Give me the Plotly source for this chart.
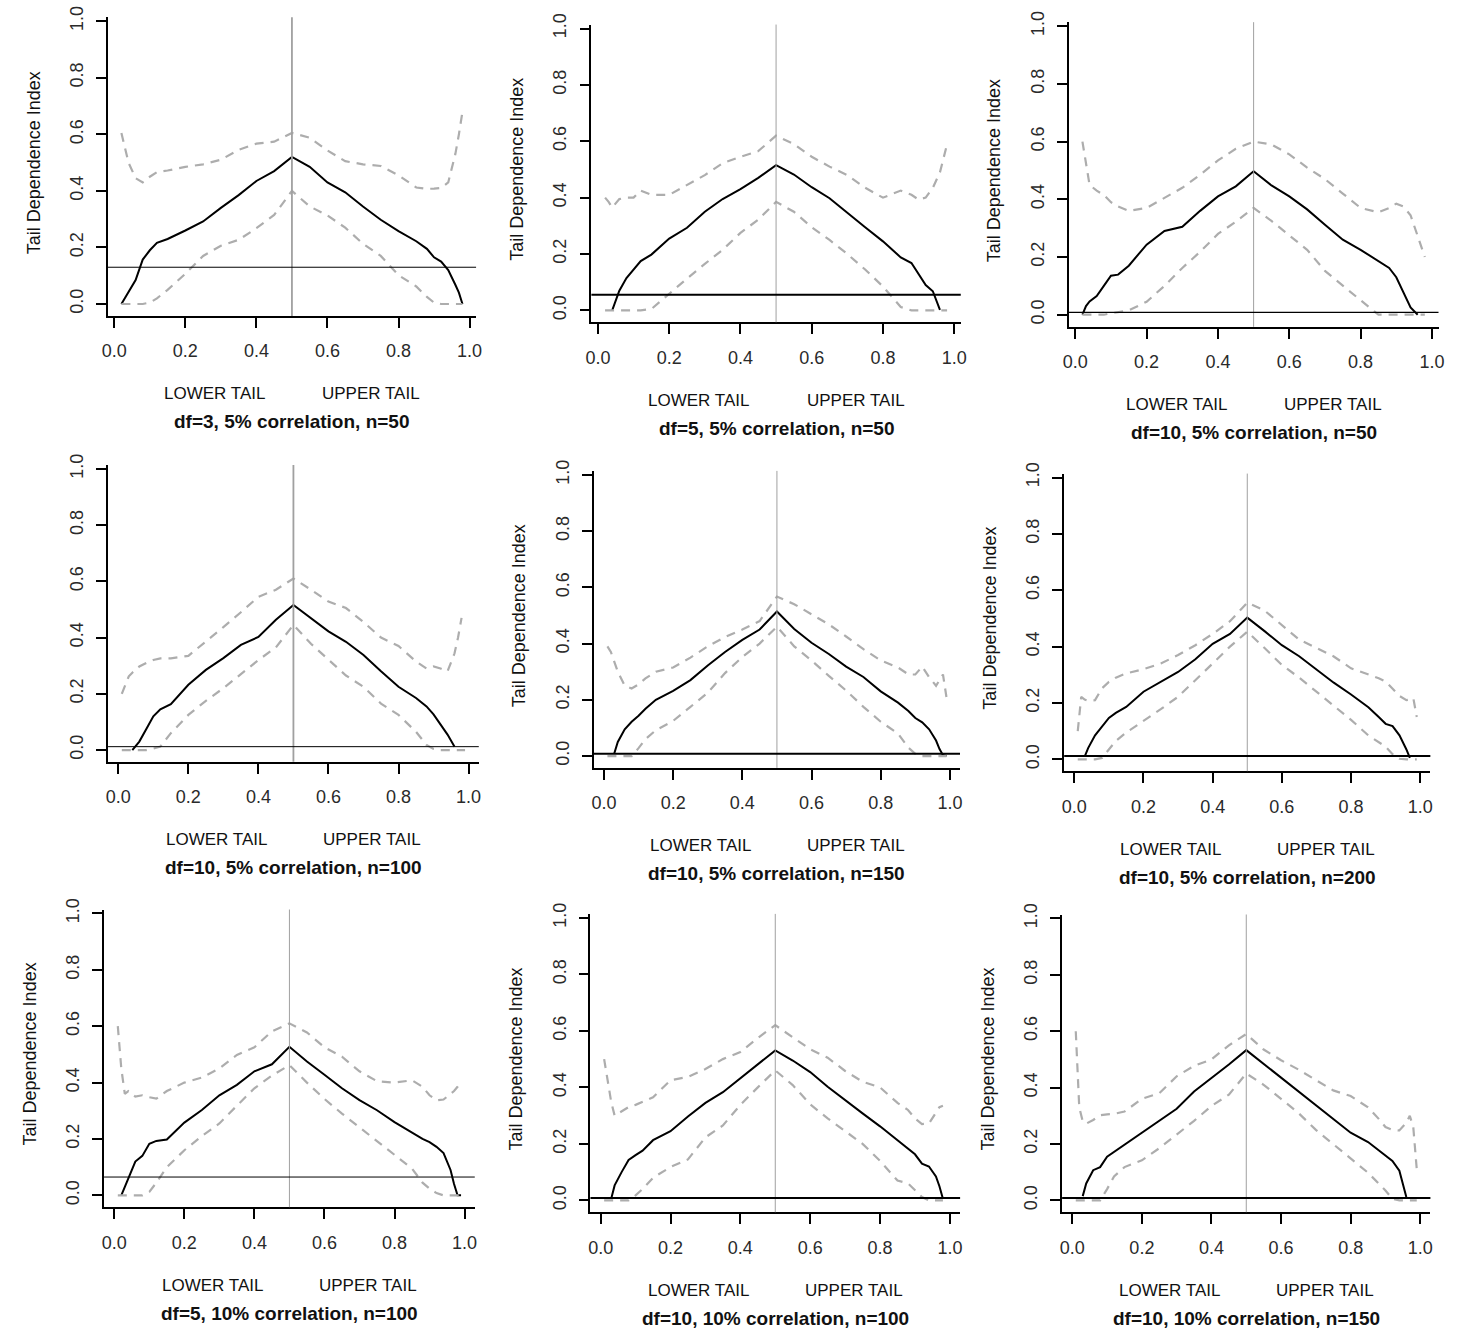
import plotly.graph_objects as go

W, H = 1463, 1342
N = None

X = [0.01, 0.02, 0.03, 0.04, 0.06, 0.08, 0.10, 0.12, 0.15, 0.20, 0.25, 0.30, 0.35, 0.40, 0.45,
     0.50, 0.55, 0.60, 0.65, 0.70, 0.75, 0.80, 0.85, 0.88, 0.90, 0.92, 0.94, 0.96, 0.97, 0.98, 0.99]

TICK_VALS = [0.0, 0.2, 0.4, 0.6, 0.8, 1.0]
TICK_TEXT = ["0.0", "0.2", "0.4", "0.6", "0.8", "1.0"]

TITLES = ["df=3, 5% correlation, n=50", "df=5, 5% correlation, n=50", "df=10, 5% correlation, n=50",
          "df=10, 5% correlation, n=100", "df=10, 5% correlation, n=150", "df=10, 5% correlation, n=200",
          "df=5, 10% correlation, n=100", "df=10, 10% correlation, n=100", "df=10, 10% correlation, n=150"]
SHOW_YTITLE = [True, True, True, False, True, True, True, True, True]
THRESH = [0.13, 0.056, 0.008, 0.012, 0.008, 0.012, 0.065, 0.008, 0.008]

# panel 1
EST1 = [N, 0.0, 0.022, 0.045, 0.085, 0.157, 0.19, 0.216, 0.23, 0.26, 0.292, 0.34, 0.385, 0.435, 0.47, 0.52, 0.485, 0.43, 0.395, 0.345, 0.298, 0.258, 0.222, 0.195, 0.165, 0.15, 0.12, 0.068, 0.04, 0.0, N]
UP1 = [N, 0.605, 0.55, 0.5, 0.445, 0.43, 0.45, 0.466, 0.472, 0.485, 0.494, 0.51, 0.545, 0.567, 0.574, 0.605, 0.588, 0.543, 0.505, 0.494, 0.488, 0.455, 0.412, 0.407, 0.408, 0.41, 0.43, 0.53, 0.6, 0.68, N]
LO1 = [N, 0, 0, 0, 0, 0, 0.005, 0.02, 0.05, 0.107, 0.17, 0.206, 0.227, 0.268, 0.315, 0.4, 0.345, 0.313, 0.27, 0.213, 0.17, 0.102, 0.062, 0.025, 0.005, 0, 0, 0, 0, 0, N]
# panel 2
EST2 = [N, N, N, 0.0, 0.07, 0.115, 0.145, 0.175, 0.198, 0.255, 0.293, 0.35, 0.395, 0.43, 0.47, 0.515, 0.482, 0.437, 0.398, 0.345, 0.295, 0.245, 0.188, 0.168, 0.13, 0.09, 0.068, 0.002, N, N, N]
UP2 = [N, 0.4, 0.385, 0.365, 0.395, 0.4, 0.4, 0.425, 0.41, 0.41, 0.445, 0.48, 0.522, 0.545, 0.565, 0.62, 0.59, 0.545, 0.51, 0.48, 0.435, 0.4, 0.425, 0.41, 0.393, 0.4, 0.435, 0.49, 0.54, 0.59, N]
LO2 = [N, 0, 0, 0, 0, 0, 0, 0, 0.005, 0.06, 0.113, 0.165, 0.215, 0.275, 0.322, 0.385, 0.35, 0.295, 0.25, 0.2, 0.145, 0.085, 0.012, 0, 0, 0, 0, 0, 0, 0, N]
# panel 3
EST3 = [N, 0.0, 0.03, 0.046, 0.065, 0.1, 0.135, 0.139, 0.17, 0.243, 0.29, 0.305, 0.36, 0.41, 0.445, 0.497, 0.448, 0.41, 0.365, 0.312, 0.26, 0.225, 0.185, 0.162, 0.13, 0.075, 0.025, 0.0, N, N, N]
UP3 = [N, 0.6, 0.52, 0.45, 0.43, 0.415, 0.39, 0.375, 0.36, 0.37, 0.405, 0.44, 0.485, 0.535, 0.575, 0.6, 0.59, 0.556, 0.51, 0.47, 0.42, 0.37, 0.355, 0.37, 0.385, 0.375, 0.345, 0.27, 0.235, 0.2, N]
LO3 = [N, 0, 0, 0, 0, 0, 0.005, 0.008, 0.015, 0.045, 0.1, 0.162, 0.218, 0.28, 0.322, 0.37, 0.325, 0.275, 0.225, 0.152, 0.1, 0.05, 0.0, 0, 0, 0, 0, 0, 0, 0, N]
# panel 4
EST4 = [N, N, N, 0.0, 0.03, 0.075, 0.12, 0.145, 0.163, 0.232, 0.285, 0.327, 0.374, 0.402, 0.463, 0.516, 0.47, 0.422, 0.385, 0.338, 0.28, 0.225, 0.185, 0.155, 0.127, 0.09, 0.055, 0.012, N, N, N]
UP4 = [0.2, 0.23, 0.262, 0.275, 0.297, 0.31, 0.32, 0.326, 0.326, 0.335, 0.385, 0.437, 0.49, 0.545, 0.57, 0.61, 0.57, 0.528, 0.505, 0.455, 0.4, 0.37, 0.315, 0.29, 0.297, 0.29, 0.28, 0.344, 0.4, 0.47, N]
LO4 = [0, 0, 0, 0, 0, 0, 0.005, 0.012, 0.06, 0.125, 0.175, 0.22, 0.27, 0.32, 0.365, 0.445, 0.378, 0.32, 0.265, 0.225, 0.165, 0.125, 0.065, 0.018, 0.004, 0, 0, 0, 0, 0, 0]
# panel 5
EST5 = [N, N, 0.01, 0.05, 0.095, 0.122, 0.143, 0.168, 0.2, 0.232, 0.27, 0.322, 0.37, 0.413, 0.45, 0.514, 0.452, 0.403, 0.363, 0.318, 0.281, 0.23, 0.19, 0.16, 0.135, 0.12, 0.095, 0.055, 0.025, 0.003, 0.0]
UP5 = [0.39, 0.37, 0.335, 0.3, 0.25, 0.24, 0.255, 0.276, 0.3, 0.315, 0.35, 0.39, 0.423, 0.45, 0.48, 0.567, 0.54, 0.505, 0.468, 0.425, 0.38, 0.34, 0.315, 0.29, 0.29, 0.318, 0.28, 0.25, 0.27, 0.29, 0.21]
LO5 = [0, 0, 0, 0, 0, 0, 0.028, 0.06, 0.092, 0.125, 0.175, 0.225, 0.295, 0.352, 0.4, 0.46, 0.39, 0.34, 0.285, 0.233, 0.175, 0.122, 0.08, 0.03, 0.008, 0, 0, 0, 0, 0, 0]
# panel 6
EST6 = [N, N, 0.01, 0.04, 0.085, 0.115, 0.147, 0.165, 0.186, 0.24, 0.275, 0.31, 0.355, 0.41, 0.445, 0.503, 0.455, 0.405, 0.366, 0.318, 0.272, 0.23, 0.185, 0.15, 0.126, 0.118, 0.085, 0.035, 0.005, N, N]
UP6 = [0.1, 0.222, 0.212, 0.208, 0.21, 0.252, 0.275, 0.29, 0.305, 0.32, 0.34, 0.37, 0.405, 0.445, 0.49, 0.556, 0.528, 0.476, 0.425, 0.395, 0.365, 0.323, 0.301, 0.288, 0.276, 0.25, 0.225, 0.21, 0.212, 0.217, 0.15]
LO6 = [0, 0, 0, 0, 0, 0.005, 0.035, 0.065, 0.095, 0.135, 0.178, 0.222, 0.28, 0.34, 0.4, 0.453, 0.395, 0.335, 0.29, 0.24, 0.19, 0.14, 0.085, 0.06, 0.045, 0.018, 0.002, 0, 0, 0, 0]
# panel 7
EST7 = [N, 0.0, 0.03, 0.065, 0.12, 0.14, 0.183, 0.193, 0.198, 0.258, 0.303, 0.355, 0.392, 0.44, 0.465, 0.527, 0.475, 0.428, 0.38, 0.338, 0.302, 0.26, 0.222, 0.2, 0.189, 0.172, 0.15, 0.09, 0.04, 0.0, 0.0]
UP7 = [0.6, 0.45, 0.36, 0.37, 0.35, 0.355, 0.348, 0.343, 0.37, 0.4, 0.418, 0.45, 0.498, 0.525, 0.582, 0.61, 0.578, 0.525, 0.492, 0.44, 0.405, 0.4, 0.408, 0.385, 0.355, 0.337, 0.34, 0.36, 0.37, 0.385, 0.402]
LO7 = [0, 0, 0, 0, 0, 0, 0.012, 0.045, 0.1, 0.16, 0.21, 0.255, 0.318, 0.38, 0.425, 0.462, 0.4, 0.342, 0.29, 0.242, 0.193, 0.146, 0.095, 0.045, 0.024, 0.008, 0, 0, 0, 0, 0]
# panel 8
EST8 = [N, N, 0.005, 0.053, 0.1, 0.143, 0.16, 0.176, 0.213, 0.245, 0.297, 0.345, 0.383, 0.432, 0.48, 0.531, 0.495, 0.454, 0.402, 0.354, 0.308, 0.262, 0.212, 0.18, 0.163, 0.13, 0.12, 0.085, 0.05, 0.006, N]
UP8 = [0.5, 0.43, 0.35, 0.3, 0.315, 0.33, 0.338, 0.348, 0.365, 0.425, 0.437, 0.465, 0.5, 0.525, 0.575, 0.62, 0.578, 0.535, 0.505, 0.458, 0.42, 0.4, 0.345, 0.32, 0.29, 0.27, 0.272, 0.31, 0.33, 0.335, N]
LO8 = [0, 0, 0, 0, 0, 0, 0.018, 0.04, 0.08, 0.118, 0.145, 0.223, 0.265, 0.338, 0.4, 0.46, 0.408, 0.34, 0.29, 0.245, 0.2, 0.14, 0.07, 0.06, 0.035, 0.012, 0, 0, 0, 0, N]
# panel 9
EST9 = [N, N, 0.015, 0.06, 0.107, 0.118, 0.155, 0.172, 0.195, 0.24, 0.28, 0.325, 0.386, 0.433, 0.482, 0.533, 0.484, 0.438, 0.388, 0.337, 0.288, 0.24, 0.207, 0.177, 0.16, 0.14, 0.105, 0.012, N, N, N]
UP9 = [0.6, 0.33, 0.28, 0.272, 0.285, 0.302, 0.305, 0.307, 0.315, 0.36, 0.38, 0.44, 0.477, 0.5, 0.55, 0.59, 0.535, 0.497, 0.464, 0.428, 0.39, 0.37, 0.33, 0.29, 0.26, 0.25, 0.248, 0.275, 0.3, 0.26, 0.11]
LO9 = [0, 0, 0, 0, 0, 0, 0.04, 0.085, 0.118, 0.142, 0.185, 0.233, 0.282, 0.335, 0.375, 0.45, 0.41, 0.36, 0.31, 0.25, 0.2, 0.148, 0.098, 0.06, 0.035, 0.005, 0, 0, 0, 0, 0]

ESTS = [EST1, EST2, EST3, EST4, EST5, EST6, EST7, EST8, EST9]
UPS = [UP1, UP2, UP3, UP4, UP5, UP6, UP7, UP8, UP9]
LOS = [LO1, LO2, LO3, LO4, LO5, LO6, LO7, LO8, LO9]

# ---- layout / style (page-pixel anchors of x=0, x=1, y=0, y=1 for each panel) ----
PIX = [(115, 470, 304.3, 21.7), (598.3, 954.3, 310.7, 29), (1075.3, 1431.7, 315, 26.7),
       (119, 469, 750, 469), (604.3, 950, 756, 475), (1074.3, 1420, 759.3, 477.7),
       (115, 465, 1195, 913.3), (601, 950, 1200, 917.7), (1072.3, 1420, 1200, 918.3)]
SCALE_FIX = 0.009   # small spread correction of panel placement
VLINE_W = [1.8, 1, 1, 1.8, 1, 1, 1, 1, 1]
HLINE_W = [1, 2, 1.2, 1, 2, 2, 1, 2, 2]
XR_ROW1 = [-0.0184, 1.0184]
XR_ROWS23 = [-0.0292, 1.0292]
YR = [-0.042, 1.014]
FONT = "Liberation Sans, Arial, Helvetica, sans-serif"
GRAY_DASH = "#adadad"


def fx(v):
    return v + SCALE_FIX * (v - 760)


def fy(v):
    return v - SCALE_FIX * (1290 - v)


def clamp(v):
    return min(1.0, max(0.0, v))


fig = go.Figure()
layout = dict(width=W, height=H, margin=dict(l=0, r=0, t=0, b=0), autosize=False,
              paper_bgcolor="white", plot_bgcolor="white", showlegend=False,
              font=dict(family=FONT, color="black"))
annotations = []
shapes = []

for k in range(9):
    i = k + 1
    xs = "" if i == 1 else str(i)
    XR = XR_ROW1 if k < 3 else XR_ROWS23
    x0, x1, y0, y1 = PIX[k]
    x0, x1, y0, y1 = fx(x0), fx(x1), fy(y0), fy(y1)
    sx, sy = x1 - x0, y0 - y1
    L, R = x0 + XR[0] * sx, x0 + XR[1] * sx
    B, T = y0 - YR[0] * sy, y0 - YR[1] * sy
    axis_common = dict(showgrid=False, zeroline=False, showline=True, linecolor="black",
                       linewidth=1.5, ticks="outside", ticklen=10, tickwidth=1.5, tickcolor="black",
                       tickvals=TICK_VALS, ticktext=TICK_TEXT,
                       tickfont=dict(family=FONT, size=18, color="#2a2a2a"))
    layout["xaxis" + xs] = dict(axis_common, range=XR, domain=[clamp(L / W), clamp(R / W)], anchor="y" + xs,
                                ticklabelstandoff=8)
    layout["yaxis" + xs] = dict(axis_common, range=YR, domain=[clamp(1 - B / H), clamp(1 - T / H)],
                                anchor="x" + xs, tickangle=-90, ticklabelstandoff=6)

    fig.add_trace(go.Scatter(x=X, y=ESTS[k], mode="lines", line=dict(color="black", width=2),
                             xaxis="x" + xs, yaxis="y" + xs, hoverinfo="skip"))
    for arr in (UPS[k], LOS[k]):
        fig.add_trace(go.Scatter(x=X, y=arr, mode="lines",
                                 line=dict(color=GRAY_DASH, width=2.2, dash="9px,7px"),
                                 xaxis="x" + xs, yaxis="y" + xs, hoverinfo="skip"))

    shapes.append(dict(type="line", xref="x" + xs, yref="y" + xs + " domain", x0=0.5, x1=0.5, y0=0, y1=1,
                       line=dict(color="#a0a0a0", width=VLINE_W[k])))
    shapes.append(dict(type="line", xref="x" + xs + " domain", yref="y" + xs, x0=0, x1=1,
                       y0=THRESH[k], y1=THRESH[k], line=dict(color="black", width=HLINE_W[k])))

    if SHOW_YTITLE[k]:
        annotations.append(dict(text="Tail Dependence Index", textangle=-90, showarrow=False,
                                xref="x" + xs + " domain", x=0, xshift=-74, xanchor="center",
                                yref="y" + xs, y=0.5, yanchor="middle",
                                font=dict(family=FONT, size=18, color="#111")))
    annotations.append(dict(text="LOWER TAIL", showarrow=False, xref="x" + xs, x=0.43, xanchor="right",
                            yref="y" + xs + " domain", y=0, yshift=-78, yanchor="middle",
                            font=dict(family=FONT, size=17, color="#111")))
    annotations.append(dict(text="UPPER TAIL", showarrow=False, xref="x" + xs, x=0.58, xanchor="left",
                            yref="y" + xs + " domain", y=0, yshift=-78, yanchor="middle",
                            font=dict(family=FONT, size=17, color="#111")))
    annotations.append(dict(text="<b>" + TITLES[k] + "</b>", showarrow=False, xref="x" + xs, x=0.5,
                            xanchor="center", yref="y" + xs + " domain", y=0, yshift=-106,
                            yanchor="middle", font=dict(family=FONT, size=19, color="#111")))

layout["annotations"] = annotations
layout["shapes"] = shapes
fig.update_layout(**layout)

fig.write_html("out.html", config={"displayModeBar": False, "responsive": False},
               post_script="document.body.style.margin='0px';document.body.style.overflow='hidden';")
